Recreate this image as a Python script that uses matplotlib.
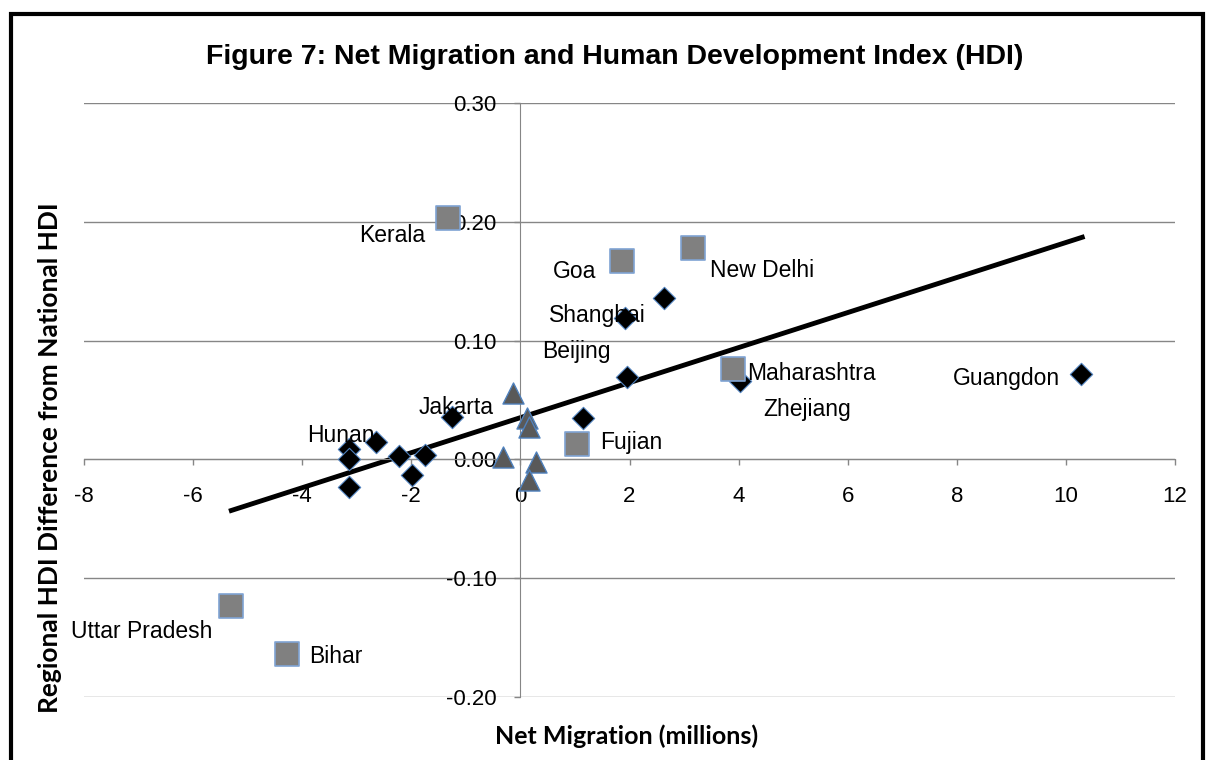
import numpy as np
import matplotlib
matplotlib.use('Agg')
import matplotlib.pyplot as plt
from matplotlib.patches import Rectangle

# China provinces / cities (diamonds)
china_x = [10.27, 4.02, 1.96, 1.92, 2.64, 1.14, -1.26, -2.64, -3.15, -3.15, -3.15, -2.22, -1.74, -1.98]
china_y = [0.072, 0.066, 0.069, 0.119, 0.136, 0.035, 0.036, 0.015, 0.009, 0.000, -0.023, 0.003, 0.004, -0.013]

# Indonesia (triangles)
indo_x = [-0.14, 0.12, 0.15, -0.31, 0.29, 0.16]
indo_y = [0.056, 0.035, 0.027, 0.002, -0.002, -0.017]

# India (squares)
india_x = [-1.32, 1.87, 3.17, 3.89, 1.04, -5.30, -4.27]
india_y = [0.203, 0.167, 0.178, 0.076, 0.013, -0.123, -0.164]

# pontas da linha de tendencia
trend_x = [-5.3, 10.3]
trend_y = [-0.043, 0.187]

# rotulos: (texto, serie, indice na serie)
etiquetas = [
    ('Kerala', 'india', 0), ('Goa', 'india', 1), ('New Delhi', 'india', 2),
    ('Maharashtra', 'india', 3), ('Fujian', 'india', 4),
    ('Uttar Pradesh', 'india', 5), ('Bihar', 'india', 6),
    ('Guangdon', 'china', 0), ('Zhejiang', 'china', 1), ('Beijing', 'china', 2),
    ('Shanghai', 'china', 3), ('Jakarta', 'china', 6), ('Hunan', 'china', 7),
]
# deslocamento do rotulo em pixels (dx para direita, dy para baixo)
deslocamentos = {
    'Kerala': (-56, 17), 'Goa': (-48, 10), 'New Delhi': (69, 23),
    'Maharashtra': (79, 4), 'Fujian': (54, -1), 'Uttar Pradesh': (-90, 26),
    'Bihar': (48, 2), 'Guangdon': (-74, 5), 'Zhejiang': (67, 29),
    'Beijing': (-51, -26), 'Shanghai': (-28, -3), 'Jakarta': (4, -9), 'Hunan': (-36, -6),
}

plt.rcParams['font.family'] = ['Liberation Sans', 'DejaVu Sans']
plt.rcParams['axes.unicode_minus'] = False

fig = plt.figure(figsize=(12.06, 7.60), dpi=100)
ax = fig.add_axes([84 / 1206, 63 / 760, 1091 / 1206, 594 / 760])

# moldura preta em volta do grafico
fig.patches.append(Rectangle((11 / 1206, -0.05), 1192 / 1206, 1.05 - 14 / 760,
                             transform=fig.transFigure, fill=False,
                             edgecolor='black', linewidth=3))

grid_cor = '#868686'
ax.set_xlim(-8, 12)
ax.set_ylim(-0.2, 0.3)
ax.set_yticks([-0.2, -0.1, 0.0, 0.1, 0.2, 0.3])
ax.set_yticklabels(['-0.20', '-0.10', '0.00', '0.10', '0.20', '0.30'])
ax.set_xticks(range(-8, 13, 2))
ax.grid(axis='y', color=grid_cor, linewidth=1)
for linha in ax.get_ygridlines():
    linha.set_clip_on(False)
ax.set_axisbelow(True)

ax.spines['left'].set_position(('data', 0))
ax.spines['bottom'].set_position(('data', 0))
ax.spines['top'].set_visible(False)
ax.spines['right'].set_visible(False)
ax.spines['left'].set_color(grid_cor)
ax.spines['bottom'].set_color(grid_cor)
ax.tick_params(axis='both', colors=grid_cor, labelcolor='black', labelsize=16,
               length=4.3, width=1, direction='out')
ax.tick_params(axis='x', pad=15)
ax.tick_params(axis='y', pad=13)

ax.plot(trend_x, trend_y, color='black', linewidth=3.5, zorder=2)

ax.scatter(china_x, china_y, marker='D', s=130, color='black',
           edgecolors='#4F81BD', linewidths=0.8, zorder=3)
ax.scatter(indo_x, indo_y, marker='^', s=230, color='#595959',
           edgecolors='#4F81BD', linewidths=1.0, zorder=3)
ax.scatter(india_x, india_y, marker='s', s=300, color='#808080',
           edgecolors='#7FA3D3', linewidths=1.2, zorder=3)

series = {'china': (china_x, china_y), 'india': (india_x, india_y)}
for texto, nome, i in etiquetas:
    xs, ys = series[nome]
    dx, dy = deslocamentos[texto]
    ax.annotate(texto, (xs[i], ys[i]), xytext=(dx * 0.72, -dy * 0.72),
                textcoords='offset points', ha='center', va='center',
                fontsize=16.5, zorder=4)

fig.text(615 / 1206, 1 - 57 / 760,
         'Figure 7: Net Migration and Human Development Index (HDI)',
         ha='center', va='center', fontsize=20.5, fontweight='bold')
fig.text(627 / 1206, 1 - 736 / 760, 'Net Migration (millions)',
         ha='center', va='center', fontsize=18, fontweight='bold',
         family=['Lato', 'DejaVu Sans'])
fig.text(50 / 1206, 1 - 458 / 760, 'Regional HDI Difference from National HDI',
         ha='center', va='center', rotation=90, fontsize=19, fontweight='bold',
         family=['Lato', 'DejaVu Sans'])

fig.savefig('out.png', dpi=100)
